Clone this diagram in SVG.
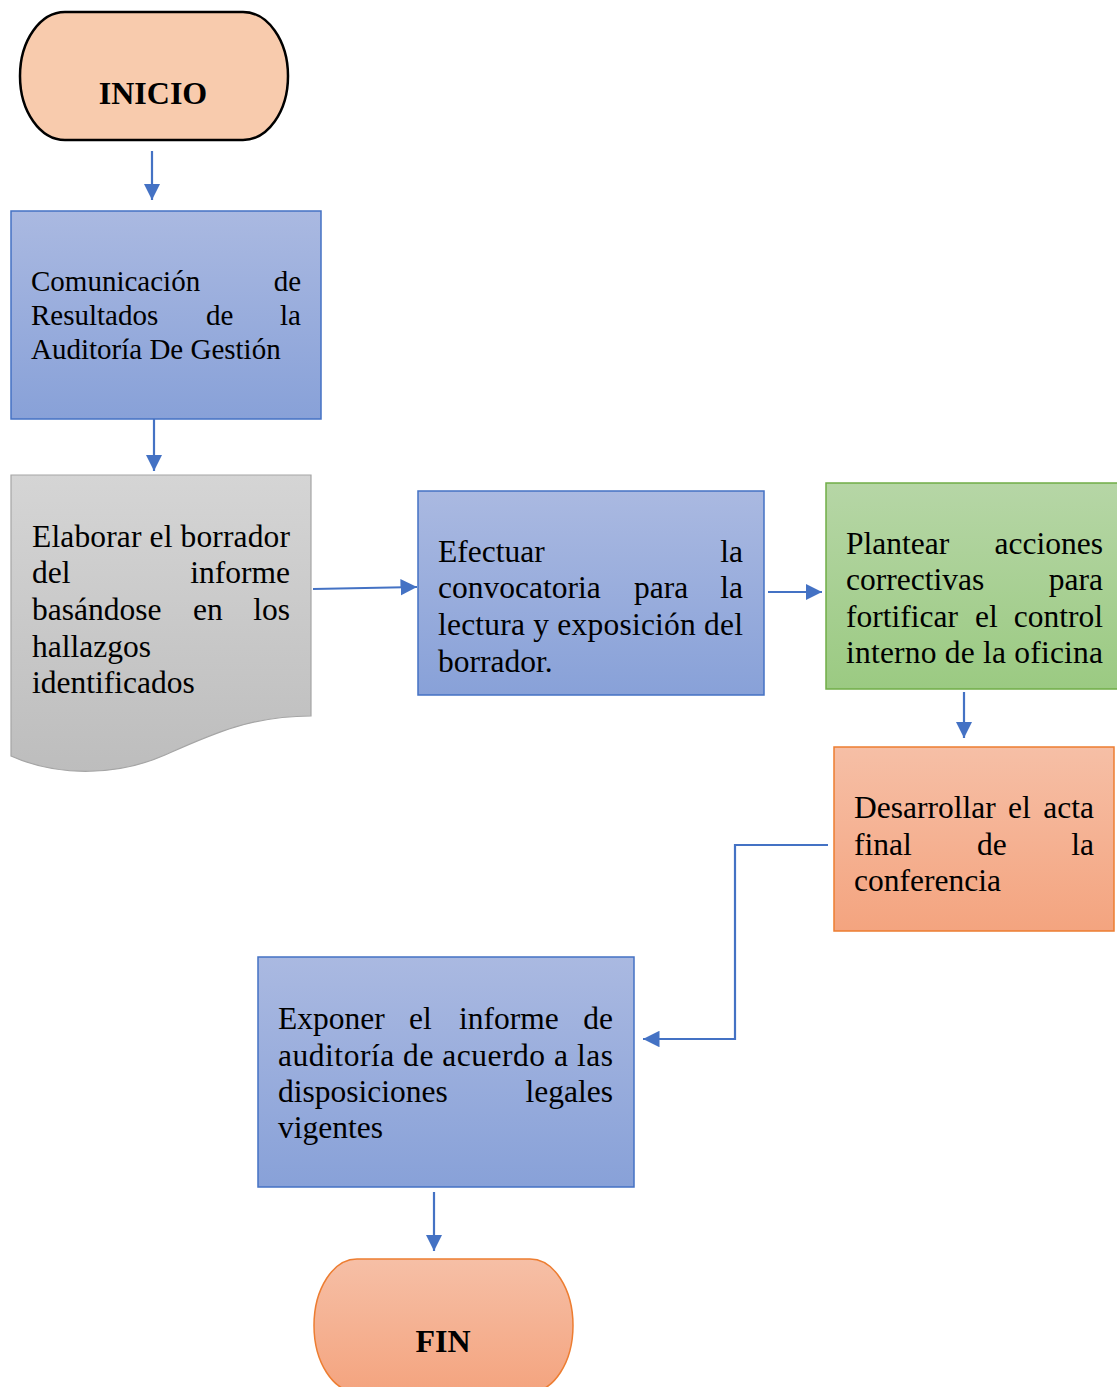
<svg xmlns="http://www.w3.org/2000/svg" width="1117" height="1387" viewBox="0 0 1117 1387">
<style>
.t{font-family:"Liberation Serif","Times New Roman",serif;font-size:31.5px;fill:#000}
.s{font-size:29px}
.b{font-weight:bold;text-anchor:middle;font-size:32px}
.e{text-anchor:end}
.c{fill:none;stroke:#4472C4;stroke-width:2.2}
</style>
<defs>
<linearGradient id="gBlue" x1="0" y1="0" x2="0" y2="1"><stop offset="0" stop-color="#AAB9E1"/><stop offset="1" stop-color="#88A1D8"/></linearGradient>
<linearGradient id="gGray" x1="0" y1="0" x2="0" y2="1"><stop offset="0" stop-color="#D5D5D5"/><stop offset="1" stop-color="#BDBDBD"/></linearGradient>
<linearGradient id="gGreen" x1="0" y1="0" x2="0" y2="1"><stop offset="0" stop-color="#B6D6A6"/><stop offset="1" stop-color="#9BCA82"/></linearGradient>
<linearGradient id="gOrange" x1="0" y1="0" x2="0" y2="1"><stop offset="0" stop-color="#F6BFA6"/><stop offset="1" stop-color="#F4A47F"/></linearGradient>
<marker id="arr" viewBox="0 0 10 10" refX="10" refY="5" markerWidth="7.5" markerHeight="7.5" markerUnits="strokeWidth" orient="auto"><path d="M0,0 L10,5 L0,10 Z" fill="#4472C4"/></marker>
</defs>

<g id="connectors">
<line class="c" x1="152" y1="151" x2="152" y2="200" marker-end="url(#arr)"/>
<line class="c" x1="154" y1="419" x2="154" y2="471" marker-end="url(#arr)"/>
<line class="c" x1="313" y1="589" x2="417" y2="587" marker-end="url(#arr)"/>
<line class="c" x1="768" y1="592" x2="822" y2="592" marker-end="url(#arr)"/>
<line class="c" x1="964" y1="692" x2="964" y2="738" marker-end="url(#arr)"/>
<polyline class="c" points="828,845 735,845 735,1039 643,1039" marker-end="url(#arr)"/>
<line class="c" x1="434" y1="1192" x2="434" y2="1251" marker-end="url(#arr)"/>
</g>

<g id="inicio">
<rect x="20" y="12" width="268" height="128" rx="45" ry="64" fill="#F8CBAD" stroke="#000" stroke-width="2.5"/>
<text class="t b" x="153" y="104">INICIO</text>
</g>

<g id="comunicacion">
<rect x="11" y="211" width="310" height="208" fill="url(#gBlue)" stroke="#4472C4" stroke-width="1.5"/>
<text class="t s" x="31" y="291">Comunicación</text>
<text class="t s e" x="301" y="291">de</text>
<text class="t s" x="31" y="325">Resultados</text>
<text class="t s" x="206" y="325">de</text>
<text class="t s e" x="301" y="325">la</text>
<text class="t s" x="31" y="359">Auditoría De Gestión</text>
</g>

<g id="elaborar">
<path d="M11,475 H311 V716 C250,716 210,735 165,755 C120,775 60,778 11,756 Z" fill="url(#gGray)" stroke="#A5A5A5" stroke-width="1.2"/>
<text class="t" x="32" y="547" textLength="258" lengthAdjust="spacing">Elaborar el borrador</text>
<text class="t" x="32" y="583">del</text>
<text class="t e" x="290" y="583">informe</text>
<text class="t" x="32" y="620">basándose</text>
<text class="t" x="193" y="620">en</text>
<text class="t e" x="290" y="620">los</text>
<text class="t" x="32" y="657">hallazgos</text>
<text class="t" x="32" y="693">identificados</text>
</g>

<g id="efectuar">
<rect x="418" y="491" width="346" height="204" fill="url(#gBlue)" stroke="#4472C4" stroke-width="1.5"/>
<text class="t" x="438" y="562">Efectuar</text>
<text class="t e" x="743" y="562">la</text>
<text class="t" x="438" y="598">convocatoria</text>
<text class="t" x="634" y="598">para</text>
<text class="t e" x="743" y="598">la</text>
<text class="t" x="438" y="635" textLength="305" lengthAdjust="spacing">lectura y exposición del</text>
<text class="t" x="438" y="672">borrador.</text>
</g>

<g id="plantear">
<rect x="826" y="483" width="300" height="206" fill="url(#gGreen)" stroke="#70AD47" stroke-width="1.5"/>
<text class="t" x="846" y="554">Plantear</text>
<text class="t e" x="1103" y="554">acciones</text>
<text class="t" x="846" y="590">correctivas</text>
<text class="t e" x="1103" y="590">para</text>
<text class="t" x="846" y="627">fortificar</text>
<text class="t" x="975" y="627">el</text>
<text class="t e" x="1103" y="627">control</text>
<text class="t" x="846" y="663" textLength="257" lengthAdjust="spacing">interno de la oficina</text>
</g>

<g id="desarrollar">
<rect x="834" y="747" width="280" height="184" fill="url(#gOrange)" stroke="#ED7D31" stroke-width="1.5"/>
<text class="t" x="854" y="818">Desarrollar</text>
<text class="t" x="1008" y="818">el</text>
<text class="t e" x="1094" y="818">acta</text>
<text class="t" x="854" y="855">final</text>
<text class="t" x="977" y="855">de</text>
<text class="t e" x="1094" y="855">la</text>
<text class="t" x="854" y="891">conferencia</text>
</g>

<g id="exponer">
<rect x="258" y="957" width="376" height="230" fill="url(#gBlue)" stroke="#4472C4" stroke-width="1.5"/>
<text class="t" x="278" y="1029">Exponer</text>
<text class="t" x="409" y="1029">el</text>
<text class="t" x="459" y="1029">informe</text>
<text class="t e" x="613" y="1029">de</text>
<text class="t" x="278" y="1066" textLength="335" lengthAdjust="spacing">auditoría de acuerdo a las</text>
<text class="t" x="278" y="1102">disposiciones</text>
<text class="t e" x="613" y="1102">legales</text>
<text class="t" x="278" y="1138">vigentes</text>
</g>

<g id="fin">
<rect x="314" y="1259" width="259" height="133" rx="43" ry="66.5" fill="url(#gOrange)" stroke="#ED7D31" stroke-width="1.5"/>
<text class="t b" x="443" y="1352">FIN</text>
</g>
</svg>
